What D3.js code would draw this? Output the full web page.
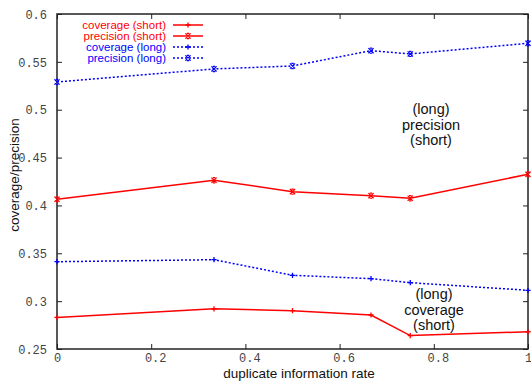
<!DOCTYPE html>
<html>
<head>
<meta charset="utf-8">
<script src="https://cdn.jsdelivr.net/npm/d3@7"></script>
<style>
  html, body { margin: 0; padding: 0; background: #fff; }
  svg { display: block; }
</style>
</head>
<body>
<svg id="chart" width="531" height="381"></svg>
<script>
// ---- data ----
const rates = [0, 1/3, 1/2, 2/3, 3/4, 1];
const coverageShort = [0.283, 0.292, 0.290, 0.2855, 0.264, 0.268];
const precisionShort = [0.4065, 0.4263, 0.4144, 0.4102, 0.4075, 0.4325];
const coverageLong = [0.3412, 0.3433, 0.3270, 0.3235, 0.3193, 0.3113];
const precisionLong = [0.529, 0.5426, 0.5457, 0.5617, 0.5583, 0.5694];
const xTicks = [0, 0.2, 0.4, 0.6, 0.8, 1];
const yTicks = [0.25, 0.3, 0.35, 0.4, 0.45, 0.5, 0.55, 0.6];
const seriesNames = ["coverage (short)", "precision (short)", "coverage (long)", "precision (long)"];

const svg = d3.select("#chart");
const L = 57, R = 528, T = 14, B = 349;
const x = d3.scaleLinear().domain([0, 1]).range([L, R]);
const y = d3.scaleLinear().domain([0.25, 0.6]).range([B, T]);

const series = [
  {name: seriesNames[0], values: coverageShort, color: "#ff0000", dash: null, marker: "plus"},
  {name: seriesNames[1], values: precisionShort, color: "#ff0000", dash: null, marker: "cross"},
  {name: seriesNames[2], values: coverageLong, color: "#0000ff", dash: "2,2", marker: "plus"},
  {name: seriesNames[3], values: precisionLong, color: "#0000ff", dash: "2,2", marker: "cross"}
];

const frameColor = "#222";
const tickColor = "#444";

// axes with inward ticks
const gB = svg.append("g").attr("transform", `translate(0,${B})`)
  .call(d3.axisBottom(x).tickValues(xTicks).tickSize(-5).tickPadding(4.5)
    .tickFormat(d => d === 0 ? "0" : d === 1 ? "1" : d3.format(".1f")(d)));
const gT = svg.append("g").attr("transform", `translate(0,${T})`)
  .call(d3.axisTop(x).tickValues(xTicks).tickSize(-5).tickFormat(""));
const gL = svg.append("g").attr("transform", `translate(${L},0)`)
  .call(d3.axisLeft(y).tickValues(yTicks).tickSize(-5).tickPadding(9)
    .tickFormat(d => String(+d.toFixed(2))));
const gR = svg.append("g").attr("transform", `translate(${R},0)`)
  .call(d3.axisRight(y).tickValues(yTicks).tickSize(-5).tickFormat(""));

[gB, gT, gL, gR].forEach(g => {
  g.select(".domain").remove();
  g.selectAll(".tick line").attr("stroke", frameColor).attr("stroke-width", 1);
  g.selectAll(".tick text")
    .attr("font-family", "'Liberation Mono', 'DejaVu Sans Mono', monospace")
    .attr("font-size", 12).attr("fill", tickColor);
});
gB.selectAll(".tick text").attr("dx", d => (d === 0 || d === 1) ? 0 : 4);
gL.selectAll(".tick text").attr("dx", -1).attr("dy", "0.35em");

// frame
svg.append("rect").attr("x", L).attr("y", T).attr("width", R - L).attr("height", B - T)
  .attr("fill", "none").attr("stroke", frameColor).attr("stroke-width", 1.5);

// lines
const line = d3.line().x((d, i) => x(rates[i])).y(d => y(d));
function drawMarker(g, type, cx, cy, color) {
  const s = 2.6;
  if (type === "plus") {
    g.append("path").attr("d", `M${cx - s},${cy}H${cx + s}M${cx},${cy - s}V${cy + s}`)
      .attr("stroke", color).attr("stroke-width", 1.3).attr("fill", "none");
  } else {
    g.append("path").attr("d", `M${cx - s},${cy - s}L${cx + s},${cy + s}M${cx - s},${cy + s}L${cx + s},${cy - s}M${cx - 1.2},${cy - s}H${cx + 1.2}M${cx - 1.2},${cy + s}H${cx + 1.2}`)
      .attr("stroke", color).attr("stroke-width", 1.2).attr("fill", "none");
  }
}
series.forEach(s => {
  svg.append("path").datum(s.values).attr("d", line)
    .attr("fill", "none").attr("stroke", s.color).attr("stroke-width", 1.5)
    .attr("stroke-dasharray", s.dash);
  const mg = svg.append("g");
  s.values.forEach((v, i) => drawMarker(mg, s.marker, x(rates[i]), y(v), s.color));
});

// legend
const legendTextX = 166, legendLineX1 = 173, legendLineX2 = 203, legendY0 = 25, legendDY = 11;
series.forEach((s, i) => {
  const ly = legendY0 + i * legendDY;
  svg.append("text").attr("x", legendTextX).attr("y", ly).attr("dy", "0.35em")
    .attr("text-anchor", "end").attr("font-family", "'Liberation Sans', Arial, sans-serif")
    .attr("font-size", 11.5).attr("fill", s.color).text(s.name);
  svg.append("line").attr("x1", legendLineX1).attr("x2", legendLineX2).attr("y1", ly).attr("y2", ly)
    .attr("stroke", s.color).attr("stroke-width", 1.5).attr("stroke-dasharray", s.dash);
  drawMarker(svg.append("g"), s.marker, (legendLineX1 + legendLineX2) / 2, ly, s.color);
});

// annotations
const sans = "'Liberation Sans', Arial, sans-serif";
function block(cx, baselines, lines) {
  lines.forEach((t, i) => svg.append("text").attr("x", cx).attr("y", baselines[i])
    .attr("text-anchor", "middle").attr("font-family", sans).attr("font-size", 14.5)
    .attr("fill", "#111").text(t));
}
block(431, [114, 129.5, 144.5], ["(long)", "precision", "(short)"]);
block(434, [299, 314.5, 330], ["(long)", "coverage", "(short)"]);

// axis labels
svg.append("text").attr("x", 299).attr("y", 377.5).attr("text-anchor", "middle")
  .attr("font-family", sans).attr("font-size", 13.5).attr("fill", "#111")
  .text("duplicate information rate");
svg.append("text").attr("transform", "translate(19,175) rotate(-90)").attr("text-anchor", "middle")
  .attr("font-family", sans).attr("font-size", 13.5).attr("fill", "#111")
  .text("coverage/precision");
</script>
</body>
</html>
